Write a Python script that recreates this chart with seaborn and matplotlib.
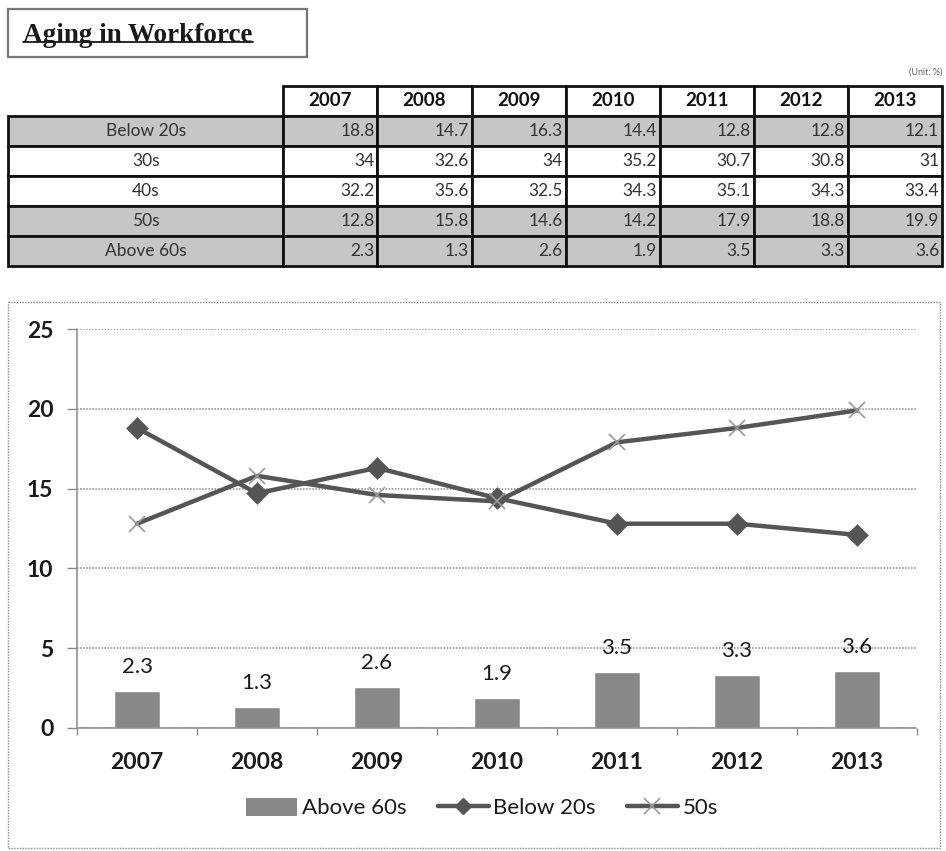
import numpy as np
import pandas as pd
import matplotlib
matplotlib.use("Agg")
import matplotlib.pyplot as plt
import seaborn as sns
from matplotlib.patches import Rectangle, Patch
from matplotlib.lines import Line2D

# ---------------- data ----------------
years = ["2007", "2008", "2009", "2010", "2011", "2012", "2013"]
groups = ["Below 20s", "30s", "40s", "50s", "Above 60s"]
below20 = [18.8, 14.7, 16.3, 14.4, 12.8, 12.8, 12.1]
age30s = [34, 32.6, 34, 35.2, 30.7, 30.8, 31]
age40s = [32.2, 35.6, 32.5, 34.3, 35.1, 34.3, 33.4]
age50s = [12.8, 15.8, 14.6, 14.2, 17.9, 18.8, 19.9]
above60 = [2.3, 1.3, 2.6, 1.9, 3.5, 3.3, 3.6]
shaded_rows = ["Below 20s", "50s", "Above 60s"]
y_ticks = [0, 5, 10, 15, 20, 25]

sns.set_theme(style="white")
plt.rcParams["font.family"] = ["Lato", "DejaVu Sans"]

W, H = 946, 851
fig = plt.figure(figsize=(W / 100, H / 100), dpi=100)
fig.patch.set_facecolor("white")

# background axes in pixel coordinates (for frames / title)
bg = fig.add_axes([0, 0, 1, 1], zorder=0)
bg.set_xlim(0, W)
bg.set_ylim(H, 0)
bg.axis("off")

# title box
bg.add_patch(Rectangle((8, 9), 299, 48, fill=False, ec="#777777", lw=1.6))
title = bg.text(23, 35, "Aging in Workforce", fontsize=19.5, fontweight="bold",
                family=["Liberation Serif", "DejaVu Serif"], color="#1a1a1a",
                ha="left", va="center")
bg.text(942, 72, "(Unit: %)", fontsize=6.5, color="#666666", ha="right", va="center")

# chart frame (dotted)
bg.add_patch(Rectangle((8, 302), 932, 546, fill=False, ec="#888888", lw=1.0,
                       ls=(0, (1, 1))))

# ---------------- table ----------------
def fmt(v):
    return f"{v:g}"

series = {"Below 20s": below20, "30s": age30s, "40s": age40s,
          "50s": age50s, "Above 60s": above60}
cell_text = [[g] + [fmt(v) for v in series[g]] for g in groups]
tax = fig.add_axes([8 / W, (H - 266) / H, 934 / W, 180 / H], zorder=2)
tax.axis("off")
gray = "#c6c6c6"
cell_colours = [[gray if g in shaded_rows else "white"] * (len(years) + 1) for g in groups]
tbl = tax.table(cellText=cell_text, colLabels=[""] + years,
                cellColours=cell_colours, cellLoc="right", colLoc="center",
                colWidths=[275.3 / 934] + [94.1 / 934] * len(years),
                bbox=[0, 0, 1, 1])
tbl.auto_set_font_size(False)
tbl.set_fontsize(12.5)
for (r, c), cell in tbl.get_celld().items():
    cell.set_edgecolor("#111111")
    cell.set_linewidth(2.0)
    cell.PAD = 0.03
    txt = cell.get_text()
    if r == 0 and c == 0:
        cell.set_visible(False)
        continue
    if r == 0:
        txt.set_fontweight("bold")
        txt.set_fontsize(13.5)
        txt.set_color("#111111")
        txt.set_horizontalalignment("center")
    else:
        txt.set_color("#333333")
        if c == 0:
            txt.set_horizontalalignment("center")

# ---------------- chart ----------------
ax = fig.add_axes([77 / W, (H - 728) / H, 840 / W, (728 - 329) / H], zorder=3)
ax.set_facecolor("none")

df = pd.DataFrame({"year": years, "Above 60s": above60,
                   "Below 20s": below20, "50s": age50s})

sns.barplot(data=df, x="year", y="Above 60s", color="#888888", saturation=1,
            width=0.39, ax=ax, errorbar=None)
ax.bar_label(ax.containers[0], fmt="%.1f", padding=10, fontsize=16, color="#1a1a1a")

line_col = "#555555"
sns.pointplot(data=df, x="year", y="Below 20s", color=line_col, markers="D",
              markersize=9.5, linewidth=3.2, errorbar=None, ax=ax)
sns.pointplot(data=df, x="year", y="50s", color=line_col, markers="x",
              markersize=12, linewidth=3.2, errorbar=None, ax=ax)
# lighten x markers
for ln in ax.lines[-1:]:
    ln.set_markeredgecolor("#9a9a9a")
    ln.set_markeredgewidth(1.2)

ax.set_xlim(-0.5, len(years) - 0.5)
ax.set_ylim(0, 25)
ax.set_yticks(y_ticks)
ax.set_xlabel("")
ax.set_ylabel("")

ax.grid(axis="y", color="#8a8a8a", ls=(0, (1, 1)), lw=1.1)
ax.grid(axis="x", visible=False)
ax.set_axisbelow(True)
for s in ["top", "right"]:
    ax.spines[s].set_visible(False)
for s in ["left", "bottom"]:
    ax.spines[s].set_color("#8a8a8a")
    ax.spines[s].set_linestyle((0, (1, 1)))
    ax.spines[s].set_linewidth(1.1)

ax.tick_params(axis="y", which="major", length=7, width=1.0, color="#8a8a8a",
               direction="out", pad=10, labelsize=16.5, labelcolor="#1a1a1a", left=True)
for lab in ax.get_yticklabels():
    lab.set_fontweight("bold")
ax.set_xticks(np.arange(-0.5, len(years), 1.0), minor=True)
ax.tick_params(axis="x", which="minor", length=5, width=1.0, color="#8a8a8a",
               direction="out", bottom=True)
ax.tick_params(axis="x", which="major", length=0, pad=17, labelsize=16.5,
               labelcolor="#1a1a1a")
for lab in ax.get_xticklabels():
    lab.set_fontweight("bold")

handles = [
    Patch(facecolor="#888888", edgecolor="none", label="Above 60s"),
    Line2D([], [], color=line_col, lw=3.2, marker="D", markersize=8, label="Below 20s"),
    Line2D([], [], color=line_col, lw=3.2, marker="x", markersize=12,
           markeredgecolor="#9a9a9a", markeredgewidth=1.2, label="50s"),
]
fig.legend(handles=handles, loc="center", bbox_to_anchor=(482 / W, (H - 808) / H),
           ncol=3, frameon=False, fontsize=16, handlelength=2.3, handleheight=0.9,
           handletextpad=0.2, columnspacing=1.4, labelcolor="#1a1a1a")

# underline title
fig.canvas.draw()
bb = title.get_window_extent(renderer=fig.canvas.get_renderer())
x0, x1 = bb.x0, bb.x1
yb = H - (bb.y0 + 0.22 * bb.height)
bg.plot([x0, x1], [yb, yb], color="#1a1a1a", lw=1.3)

fig.savefig("out.png", dpi=100, facecolor="white")
